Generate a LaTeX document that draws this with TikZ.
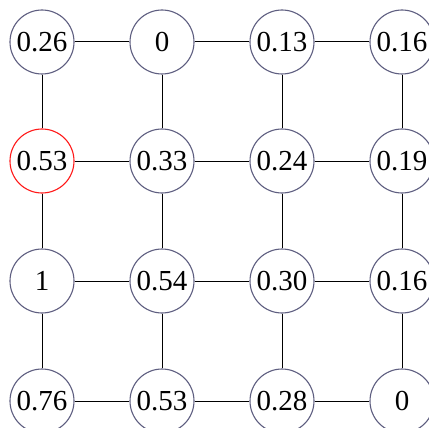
\documentclass[tikz,border=0pt]{standalone}
\usepackage{fontspec}
\setmainfont{Liberation Serif}
\usetikzlibrary{positioning}
\definecolor{ringgray}{HTML}{5E5E80}

\begin{document}
\begin{tikzpicture}[
        x=1pt, y=1pt,
        cell/.style={circle, draw=ringgray, line width=1.1pt, fill=white, minimum size=64pt, inner sep=0pt, font=\fontsize{29}{31}\selectfont},
        start/.style={cell, draw=red!90},
        link/.style={black, line width=1pt}
    ]
        \useasboundingbox (0,0) rectangle (429,-428);

        \node[cell] (c11) at (42,-42) {0.26};
        \node[cell] (c12) at (162,-42) {0};
        \node[cell] (c13) at (282,-42) {0.13};
        \node[cell] (c14) at (402,-42) {0.16};

        \node[start] (c21) at (42,-161) {0.53};
        \node[cell] (c22) at (162,-161) {0.33};
        \node[cell] (c23) at (282,-161) {0.24};
        \node[cell] (c24) at (402,-161) {0.19};

        \node[cell] (c31) at (42,-281) {1};
        \node[cell] (c32) at (162,-281) {0.54};
        \node[cell] (c33) at (282,-281) {0.30};
        \node[cell] (c34) at (402,-281) {0.16};

        \node[cell] (c41) at (42,-401) {0.76};
        \node[cell] (c42) at (162,-401) {0.53};
        \node[cell] (c43) at (282,-401) {0.28};
        \node[cell] (c44) at (402,-401) {0};

        % horizontal links
        \draw[link] (c11) -- (c12);
        \draw[link] (c12) -- (c13);
        \draw[link] (c13) -- (c14);
        \draw[link] (c21) -- (c22);
        \draw[link] (c22) -- (c23);
        \draw[link] (c23) -- (c24);
        \draw[link] (c31) -- (c32);
        \draw[link] (c32) -- (c33);
        \draw[link] (c33) -- (c34);
        \draw[link] (c41) -- (c42);
        \draw[link] (c42) -- (c43);
        \draw[link] (c43) -- (c44);

        % vertical links
        \draw[link] (c11) -- (c21);
        \draw[link] (c21) -- (c31);
        \draw[link] (c31) -- (c41);
        \draw[link] (c12) -- (c22);
        \draw[link] (c22) -- (c32);
        \draw[link] (c32) -- (c42);
        \draw[link] (c13) -- (c23);
        \draw[link] (c23) -- (c33);
        \draw[link] (c33) -- (c43);
        \draw[link] (c14) -- (c24);
        \draw[link] (c24) -- (c34);
        \draw[link] (c34) -- (c44);
    \end{tikzpicture}
\end{document}
